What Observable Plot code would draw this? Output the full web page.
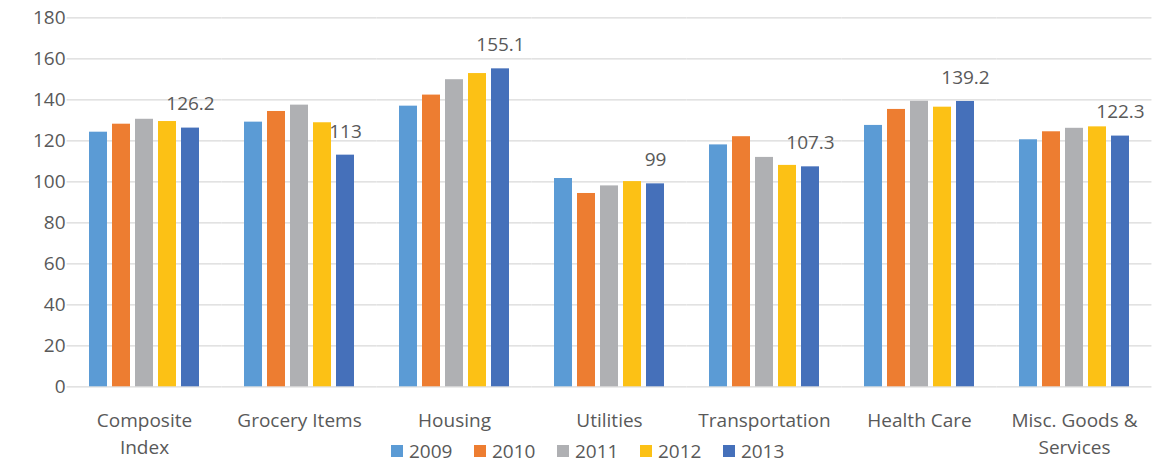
<!DOCTYPE html>
<html>
<head>
<meta charset="utf-8">
<script src="https://cdn.jsdelivr.net/npm/d3@7"></script>
<script src="https://cdn.jsdelivr.net/npm/@observablehq/plot@0.6"></script>
<style>
  html, body { margin: 0; padding: 0; background: #fff; }
  #wrap { position: relative; width: 1159px; height: 462px; font-family: "Open Sans", sans-serif; }
  #legend { position: absolute; top: 441px; left: 391px; display: flex; align-items: center; gap: 21.5px; font-size: 19px; color: #595959; height: 20px; }
  #legend .item { display: flex; align-items: center; }
  #legend .sw { width: 12px; height: 12px; margin-right: 6px; }
</style>
</head>
<body>
<div id="wrap"></div>
<script>
const categories = ["Composite Index", "Grocery Items", "Housing", "Utilities", "Transportation", "Health Care", "Misc. Goods & Services"];
const tickLabels = ["Composite\nIndex", "Grocery Items", "Housing", "Utilities", "Transportation", "Health Care", "Misc. Goods &\nServices"];
const years = ["2009", "2010", "2011", "2012", "2013"];
const v2009 = [124.2, 129.1, 136.9, 101.6, 118.0, 127.5, 120.5];
const v2010 = [128.1, 134.3, 142.3, 94.3, 122.0, 135.3, 124.4];
const v2011 = [130.5, 137.4, 149.8, 98.0, 111.9, 139.3, 126.1];
const v2012 = [129.4, 128.8, 152.8, 100.1, 108.0, 136.4, 126.8];
const v2013 = [126.2, 113, 155.1, 99, 107.3, 139.2, 122.3];
const yTicks = [0, 20, 40, 60, 80, 100, 120, 140, 160, 180];
const colors = ["#5B9BD5", "#ED7D31", "#AFB0B3", "#FCC115", "#4570BA"];

const series = [v2009, v2010, v2011, v2012, v2013];
const data = [];
categories.forEach((c, i) => {
  years.forEach((y, j) => data.push({category: c, year: y, value: series[j][i]}));
});
const labelled = data.filter(d => d.year === "2013");

const width = 1159, marginLeft = 67, marginRight = 7;
const fxPadInner = 0.264, fxPadOuter = 0.132;
const step = (width - marginLeft - marginRight) / (categories.length - fxPadInner + 2 * fxPadOuter);
const halfGap = step * fxPadInner / 2;

const chart = Plot.plot({
  width,
  height: 462,
  marginLeft,
  marginRight,
  marginTop: 17.3,
  marginBottom: 75.7,
  style: {fontFamily: "'Open Sans', sans-serif", fontSize: "19px", color: "#595959", background: "#fff"},
  fx: {domain: categories, paddingInner: fxPadInner, paddingOuter: fxPadOuter, label: null},
  x: {domain: years, paddingInner: 0.22, paddingOuter: 0, axis: null},
  y: {domain: [0, 180], label: null},
  color: {domain: years, range: colors},
  marks: [
    Plot.ruleY(yTicks, {y: d => d, stroke: "#d9d9d9", strokeWidth: 1.3, insetLeft: -halfGap, insetRight: -halfGap}),
    Plot.barY(data, {fx: "category", x: "year", y: "value", fill: "year"}),
    Plot.text(labelled, {fx: "category", x: "year", y: "value", text: d => String(d.value), lineAnchor: "bottom", dy: -17.6, fill: "#595959", fontSize: 19}),
    Plot.axisY({ticks: yTicks, tickSize: 0, tickPadding: 22, fontSize: 19, label: null}),
    Plot.axisFx({anchor: "bottom", tickSize: 0, tickPadding: 20.7, fontSize: 19, lineHeight: 1.42, label: null, tickFormat: d => tickLabels[categories.indexOf(d)]})
  ]
});

const wrap = document.getElementById("wrap");
wrap.appendChild(chart);
const legend = document.createElement("div");
legend.id = "legend";
years.forEach((y, i) => {
  const item = document.createElement("div");
  item.className = "item";
  const sw = document.createElement("span");
  sw.className = "sw";
  sw.style.background = colors[i];
  const t = document.createElement("span");
  t.textContent = y;
  item.appendChild(sw);
  item.appendChild(t);
  legend.appendChild(item);
});
wrap.appendChild(legend);
</script>
</body>
</html>
